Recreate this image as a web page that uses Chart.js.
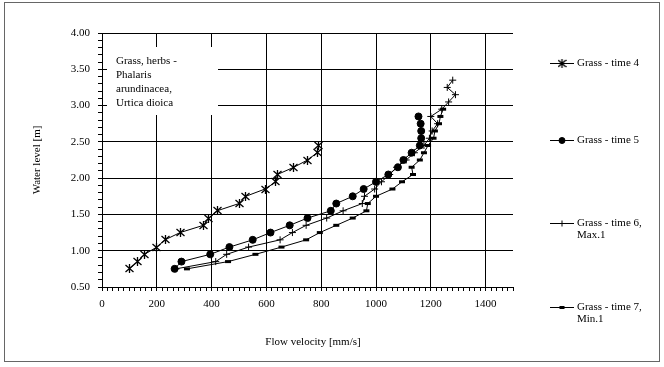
<!DOCTYPE html>
<html>
<head>
<meta charset="utf-8">
<script src="https://cdn.jsdelivr.net/npm/chart.js@4/dist/chart.umd.min.js"></script>
<style>
  html, body { margin: 0; padding: 0; background: #fff; }
</style>
</head>
<body>
<canvas id="chart" width="664" height="367"></canvas>
<script>
// flow velocity [mm/s] and water level [m]
const time4Velocity = [100, 130, 155, 200, 230, 285, 370, 390, 420, 500, 525, 595, 635, 640, 700, 750, 785, 790];
const time4Level    = [0.75, 0.85, 0.95, 1.05, 1.15, 1.25, 1.35, 1.45, 1.55, 1.65, 1.75, 1.85, 1.95, 2.05, 2.15, 2.25, 2.35, 2.45];

const time5Velocity = [265, 290, 395, 465, 550, 615, 685, 750, 835, 855, 915, 955, 1000, 1045, 1080, 1100, 1130, 1160, 1165, 1165, 1163, 1155];
const time5Level    = [0.75, 0.85, 0.95, 1.05, 1.15, 1.25, 1.35, 1.45, 1.55, 1.65, 1.75, 1.85, 1.95, 2.05, 2.15, 2.25, 2.35, 2.45, 2.55, 2.65, 2.75, 2.85];

const time6Velocity = [270, 415, 455, 535, 650, 695, 745, 820, 880, 950, 958, 995, 1020, 1050, 1075, 1110, 1140, 1175, 1195, 1205, 1225, 1200, 1240, 1265, 1290, 1260, 1280];
const time6Level    = [0.75, 0.85, 0.95, 1.05, 1.15, 1.25, 1.35, 1.45, 1.55, 1.65, 1.75, 1.85, 1.95, 2.05, 2.15, 2.25, 2.35, 2.45, 2.55, 2.65, 2.75, 2.85, 2.95, 3.05, 3.15, 3.25, 3.35];

const time7Velocity = [310, 460, 560, 655, 745, 795, 855, 915, 965, 970, 1000, 1060, 1095, 1135, 1130, 1160, 1175, 1190, 1210, 1215, 1230, 1235, 1245];
const time7Level    = [0.75, 0.85, 0.95, 1.05, 1.15, 1.25, 1.35, 1.45, 1.55, 1.65, 1.75, 1.85, 1.95, 2.05, 2.15, 2.25, 2.35, 2.45, 2.55, 2.65, 2.75, 2.85, 2.95];

const seriesLabels = [
  ['Grass - time 4'],
  ['Grass - time 5'],
  ['Grass - time 6,', 'Max.1'],
  ['Grass - time 7,', 'Min.1']
];
const noteLines = ['Grass, herbs -', 'Phalaris', 'arundinacea,', 'Urtica dioica'];
const xTitle = 'Flow velocity [mm/s]';
const yTitle = 'Water level [m]';

const X_MIN = 0, X_MAX = 1500, X_MAJOR = 200, X_MINOR = 20;
const Y_MIN = 0.5, Y_MAX = 4, Y_MAJOR = 0.5, Y_MINOR = 0.1;

const FONT = 'Liberation Serif, Times New Roman, serif';

const toPoints = (xs, ys) => xs.map((x, i) => ({ x: x, y: ys[i] }));
const isMultiple = (v, step) => Math.abs(v / step - Math.round(v / step)) < 1e-6;

// asterisk marker like excel's (x with a vertical stroke)
function makeAsterisk(size) {
  const c = document.createElement('canvas');
  c.width = size; c.height = size;
  const g = c.getContext('2d');
  g.strokeStyle = '#000';
  g.lineWidth = 1.3;
  const m = size / 2;
  g.beginPath();
  g.moveTo(m, 0); g.lineTo(m, size);
  g.moveTo(0.5, 1); g.lineTo(size - 0.5, size - 1);
  g.moveTo(size - 0.5, 1); g.lineTo(0.5, size - 1);
  g.stroke();
  return c;
}
const asterisk = makeAsterisk(9);

const baseLine = {
  showLine: true,
  borderColor: '#000',
  borderWidth: 1,
  tension: 0,
  pointBackgroundColor: '#000',
  pointBorderColor: '#000'
};

const datasets = [
  Object.assign({}, baseLine, { data: toPoints(time4Velocity, time4Level), pointStyle: asterisk, pointRadius: 4.5, pointBorderWidth: 1 }),
  Object.assign({}, baseLine, { data: toPoints(time5Velocity, time5Level), pointStyle: 'circle', pointRadius: 3.5, pointBorderWidth: 1 }),
  Object.assign({}, baseLine, { data: toPoints(time6Velocity, time6Level), pointStyle: 'cross', pointRadius: 3.5, pointBorderWidth: 1 }),
  Object.assign({}, baseLine, { data: toPoints(time7Velocity, time7Level), pointStyle: 'line', pointRadius: 3, pointBorderWidth: 3 })
];

const frameAndText = {
  id: 'frameAndText',
  beforeDraw(chart) {
    const ctx = chart.ctx;
    ctx.save();
    ctx.fillStyle = '#fff';
    ctx.fillRect(0, 0, chart.width, chart.height);
    ctx.strokeStyle = '#666';
    ctx.lineWidth = 1;
    ctx.strokeRect(4.5, 2.5, 655, 359);
    ctx.restore();
  },
  beforeDatasetsDraw(chart) {
    // white text box over the grid
    const ctx = chart.ctx;
    ctx.save();
    ctx.fillStyle = '#fff';
    ctx.fillRect(107, 47, 111, 68);
    ctx.fillStyle = '#000';
    ctx.font = '11px ' + FONT;
    ctx.textBaseline = 'middle';
    noteLines.forEach((line, i) => ctx.fillText(line, 116, 61 + i * 14));
    ctx.restore();
    // keep the image markers sharp at fractional positions
    ctx.imageSmoothingEnabled = false;
  },
  afterDatasetsDraw(chart) {
    chart.ctx.imageSmoothingEnabled = true;
  },
  afterDraw(chart) {
    const ctx = chart.ctx;
    ctx.save();
    ctx.fillStyle = '#000';
    ctx.font = '11px ' + FONT;
    ctx.textBaseline = 'middle';
    ctx.textAlign = 'center';
    ctx.fillText(xTitle, 313, 342);
    ctx.save();
    ctx.translate(37, 160);
    ctx.rotate(-Math.PI / 2);
    ctx.fillText(yTitle, 0, 0);
    ctx.restore();

    // legend on the right
    const rows = [63, 140, 223, 307];
    ctx.textAlign = 'left';
    chart.data.datasets.forEach((ds, i) => {
      const y = rows[i];
      ctx.strokeStyle = '#000';
      ctx.lineWidth = 1;
      ctx.beginPath();
      ctx.moveTo(550, y + 0.5);
      ctx.lineTo(574, y + 0.5);
      ctx.stroke();
      ctx.fillStyle = '#000';
      ctx.lineWidth = ds.pointBorderWidth;
      Chart.helpers.drawPoint(ctx, {
        pointStyle: ds.pointStyle,
        radius: ds.pointStyle === 'line' ? 2.5 : Math.min(ds.pointRadius, 3),
        borderWidth: ds.pointBorderWidth,
        rotation: 0
      }, 562, y + 0.5);
      ctx.fillStyle = '#000';
      seriesLabels[i].forEach((t, k) => ctx.fillText(t, 577, y + k * 12));
    });
    ctx.restore();
  }
};

new Chart(document.getElementById('chart'), {
  type: 'scatter',
  data: { datasets: datasets },
  plugins: [frameAndText],
  options: {
    responsive: false,
    animation: false,
    layout: { padding: { left: 0, top: 33, right: 151, bottom: 0 } },
    plugins: {
      legend: { display: false },
      tooltip: { enabled: false }
    },
    scales: {
      x: {
        type: 'linear',
        min: X_MIN,
        max: X_MAX,
        afterFit: scale => { scale.height = 80; },
        border: { color: '#000', width: 1 },
        grid: {
          color: c => (c.tick && c.tick.value > X_MIN && isMultiple(c.tick.value, X_MAJOR)) ? '#000' : 'rgba(0,0,0,0)',
          tickColor: '#000',
          tickLength: 4,
          lineWidth: 1
        },
        ticks: {
          stepSize: X_MINOR,
          autoSkip: false,
          maxRotation: 0,
          padding: 7,
          color: '#000',
          font: { family: FONT, size: 11 },
          callback: v => isMultiple(v, X_MAJOR) && v < X_MAX ? String(v) : ''
        }
      },
      y: {
        type: 'linear',
        min: Y_MIN,
        max: Y_MAX,
        afterFit: scale => { scale.width = 102; },
        border: { color: '#000', width: 1 },
        grid: {
          color: c => (c.tick && c.tick.value > Y_MIN + 1e-6 && isMultiple(c.tick.value, Y_MAJOR)) ? '#000' : 'rgba(0,0,0,0)',
          tickColor: '#000',
          tickLength: 4,
          lineWidth: 1
        },
        ticks: {
          stepSize: Y_MINOR,
          autoSkip: false,
          padding: 8,
          color: '#000',
          font: { family: FONT, size: 11 },
          callback: v => isMultiple(v, Y_MAJOR) ? v.toFixed(2) : ''
        }
      }
    }
  }
});
</script>
</body>
</html>
